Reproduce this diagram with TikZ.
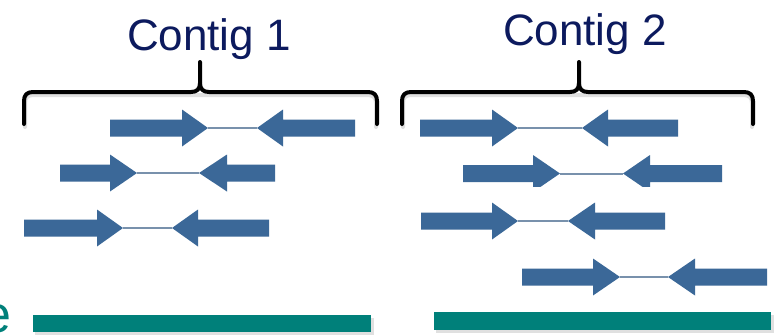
\documentclass[tikz,border=0pt]{standalone}
\usepackage{fontspec}
\setmainfont{Liberation Sans}
\definecolor{labelnavy}{RGB}{12,26,94}
\definecolor{readblue}{RGB}{59,104,152}
\definecolor{insertline}{RGB}{120,145,172}
\definecolor{refteal}{RGB}{0,128,122}

% One read pair: #1 row y, #2 left end, #3 left head base, #4 left tip,
% #5 right tip, #6 right head base, #7 right end
\newcommand{\readpair}[7]{%
  \draw[insertline, line width=2pt] (#4,#1) -- (#5,#1);
  \fill[readblue] (#2,#1-8.5) -- (#3,#1-8.5) -- (#3,#1-18.5) -- (#4,#1)
        -- (#3,#1+18.5) -- (#3,#1+8.5) -- (#2,#1+8.5) -- cycle;
  \fill[readblue] (#7,#1-8.5) -- (#6,#1-8.5) -- (#6,#1-18.5) -- (#5,#1)
        -- (#6,#1+18.5) -- (#6,#1+8.5) -- (#7,#1+8.5) -- cycle;
}

% Curly brace: #1 left x, #2 tip x, #3 right x
\newcommand{\contigbrace}[3]{%
  \draw[black!12, line width=4pt, line cap=round, line join=round]
    (#1+1,127) -- (#1+1,103) .. controls (#1+1,97) and (#1+4,95) .. (#1+10,95)
    -- (#3-10,95) .. controls (#3-4,95) and (#3-1,97) .. (#3-1,103) -- (#3-1,127);
  \draw[black, line width=4pt, line cap=round, line join=round]
    (#1,124) -- (#1,101) .. controls (#1,95) and (#1+3,92) .. (#1+9,92)
    -- (#2-9,92) .. controls (#2-3,92) and (#2,89) .. (#2,83) -- (#2,62);
  \draw[black, line width=4pt, line cap=round, line join=round]
    (#2,83) .. controls (#2,89) and (#2+3,92) .. (#2+9,92)
    -- (#3-9,92) .. controls (#3-3,92) and (#3,95) .. (#3,101) -- (#3,124);
}

\begin{document}
\begin{tikzpicture}[x=1pt, y=-1pt,
    contiglabel/.style={text=labelnavy, font=\fontsize{44}{50}\selectfont,
      inner sep=0pt, anchor=base},
    refbar/.style={fill=refteal},
    barshadow/.style={fill=black, opacity=0.12}]
  \clip (0,0) rectangle (776,335);
  \fill[white] (0,0) rectangle (776,335);

  % contig labels
  \node[contiglabel] (lab1) at (209,50) {Contig 1};
  \node[contiglabel] (lab2) at (585,45) {Contig 2};

  % braces
  \contigbrace{24}{200}{377}
  \contigbrace{402}{579}{753}

  % reads of contig 1
  \readpair{128}{110}{182}{208}{257}{283}{355}
  \readpair{173}{60}{110}{137}{199}{227}{275}
  \readpair{228}{24}{97}{123}{172}{198}{269}

  % reads of contig 2
  \readpair{128}{420}{492}{518}{582}{608}{678}
  \begin{scope}
    \clip (0,0) rectangle (776,186);
    \readpair{173.5}{463}{533}{560}{623}{650}{722}
  \end{scope}
  \readpair{221}{421}{492}{518}{568}{595}{665}
  \readpair{277}{522}{593}{620}{668}{695}{767}

  % reference sequence bars
  \fill[barshadow] (35,318) rectangle (374,335);
  \fill[barshadow] (436,315) rectangle (774,333);
  \fill[refbar] (33,315) rectangle (371,332);
  \fill[refbar] (434,312) rectangle (771,330);

  % label cut at the left edge
  \node[text=refteal, font=\fontsize{52}{56}\selectfont, inner sep=0pt,
        anchor=base west] (reflab) at (-18,332) {e};
\end{tikzpicture}
\end{document}
